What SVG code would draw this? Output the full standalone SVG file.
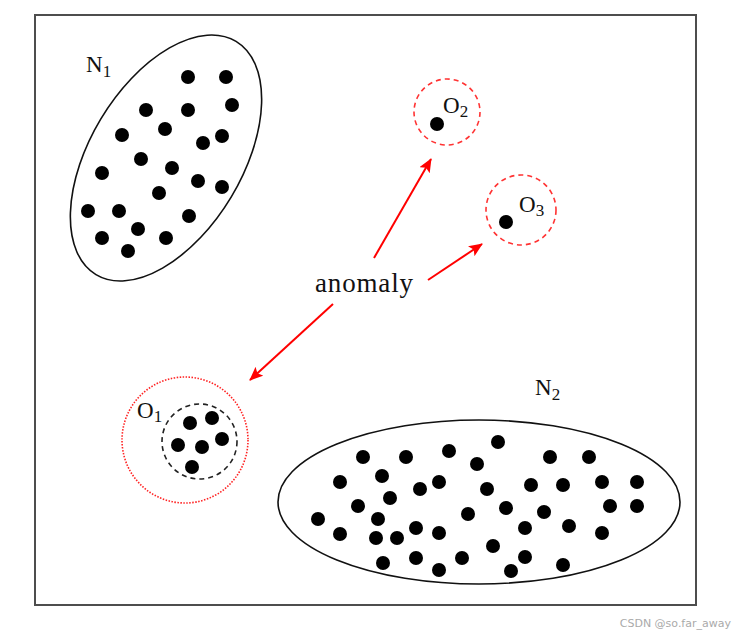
<svg xmlns="http://www.w3.org/2000/svg" width="738" height="636" viewBox="0 0 738 636">
<defs>
<style>
.d{fill:#000}
.lbl{font-family:"Liberation Serif",serif;font-size:23px;fill:#111}
.sub{font-size:17px}
.arr{stroke:#ff0000;stroke-width:2;fill:none;marker-end:url(#ah)}
</style>
<marker id="ah" viewBox="0 0 14 12" refX="13" refY="6" markerWidth="14" markerHeight="12" markerUnits="userSpaceOnUse" orient="auto">
<path d="M0,0 L14,6 L0,12 L3,6 Z" fill="#ff0000"/>
</marker>
</defs>
<rect width="738" height="636" fill="#fff"/>
<rect x="35" y="15" width="661" height="590" fill="none" stroke="#4d4d4d" stroke-width="2"/>

<g id="N1">
<ellipse cx="166" cy="158" rx="136" ry="76" transform="rotate(-59 166 158)" fill="none" stroke="#111" stroke-width="1.6"/>
<text class="lbl" x="86" y="72">N<tspan class="sub" dy="5">1</tspan></text>
<g class="d">
<circle cx="188" cy="77" r="7"/><circle cx="226" cy="77" r="7"/>
<circle cx="146" cy="110" r="7"/><circle cx="188" cy="110" r="7"/><circle cx="232" cy="105" r="7"/>
<circle cx="122" cy="135" r="7"/><circle cx="165" cy="129" r="7"/><circle cx="203" cy="143" r="7"/><circle cx="222" cy="136" r="7"/>
<circle cx="141" cy="159" r="7"/><circle cx="172" cy="168" r="7"/><circle cx="102" cy="173" r="7"/><circle cx="198" cy="181" r="7"/><circle cx="222" cy="187" r="7"/>
<circle cx="159" cy="193" r="7"/><circle cx="88" cy="211" r="7"/><circle cx="119" cy="211" r="7"/><circle cx="189" cy="216" r="7"/>
<circle cx="138" cy="229" r="7"/><circle cx="102" cy="238" r="7"/><circle cx="166" cy="238" r="7"/><circle cx="128" cy="251" r="7"/>
</g>
</g>

<g id="O2">
<circle cx="447" cy="112" r="33" fill="none" stroke="#ff3333" stroke-width="1.6" stroke-dasharray="5,4"/>
<circle class="d" cx="437" cy="124" r="7"/>
<text class="lbl" x="443" y="113">O<tspan class="sub" dy="4">2</tspan></text>
</g>

<g id="O3">
<circle cx="521" cy="210" r="35" fill="none" stroke="#ff3333" stroke-width="1.6" stroke-dasharray="5,4"/>
<circle class="d" cx="506" cy="222" r="7"/>
<text class="lbl" x="519" y="212">O<tspan class="sub" dy="4">3</tspan></text>
</g>

<g id="O1">
<circle cx="185" cy="440" r="63" fill="none" stroke="#ff2222" stroke-width="1.6" stroke-dasharray="1.5,1.5"/>
<circle cx="199.5" cy="441.5" r="37.5" fill="none" stroke="#222" stroke-width="1.6" stroke-dasharray="5,4"/>
<text class="lbl" x="137" y="418">O<tspan class="sub" dy="4">1</tspan></text>
<g class="d">
<circle cx="190" cy="423" r="7"/><circle cx="212" cy="418" r="7"/>
<circle cx="178" cy="445" r="7"/><circle cx="202" cy="447" r="7"/><circle cx="222" cy="439" r="7"/>
<circle cx="192" cy="467" r="7"/>
</g>
</g>

<g id="N2">
<ellipse cx="479" cy="502" rx="201" ry="82" fill="none" stroke="#111" stroke-width="1.6"/>
<text class="lbl" x="535" y="395">N<tspan class="sub" dy="5">2</tspan></text>
<g class="d">
<circle cx="498" cy="442" r="7"/><circle cx="363" cy="457" r="7"/><circle cx="406" cy="457" r="7"/><circle cx="449" cy="451" r="7"/>
<circle cx="477" cy="464" r="7"/><circle cx="550" cy="457" r="7"/><circle cx="589" cy="457" r="7"/>
<circle cx="340" cy="482" r="7"/><circle cx="382" cy="476" r="7"/><circle cx="420" cy="489" r="7"/><circle cx="439" cy="482" r="7"/>
<circle cx="487" cy="489" r="7"/><circle cx="531" cy="485" r="7"/><circle cx="563" cy="485" r="7"/><circle cx="602" cy="482" r="7"/><circle cx="637" cy="482" r="7"/>
<circle cx="358" cy="506" r="7"/><circle cx="390" cy="498" r="7"/><circle cx="468" cy="514" r="7"/><circle cx="506" cy="508" r="7"/>
<circle cx="544" cy="512" r="7"/><circle cx="610" cy="506" r="7"/><circle cx="637" cy="506" r="7"/>
<circle cx="318" cy="519" r="7"/><circle cx="378" cy="519" r="7"/><circle cx="340" cy="534" r="7"/><circle cx="376" cy="538" r="7"/>
<circle cx="397" cy="538" r="7"/><circle cx="416" cy="528" r="7"/><circle cx="439" cy="533" r="7"/><circle cx="525" cy="528" r="7"/>
<circle cx="569" cy="526" r="7"/><circle cx="602" cy="533" r="7"/><circle cx="493" cy="546" r="7"/>
<circle cx="383" cy="563" r="7"/><circle cx="416" cy="558" r="7"/><circle cx="439" cy="570" r="7"/><circle cx="462" cy="558" r="7"/>
<circle cx="525" cy="557" r="7"/><circle cx="511" cy="571" r="7"/><circle cx="563" cy="565" r="7"/>
</g>
</g>

<g id="anomaly">
<text x="315" y="292" font-family="'Liberation Serif',serif" font-size="27" fill="#111" textLength="98">anomaly</text>
</g>

<g id="connectors">
<line class="arr" x1="374" y1="258" x2="431" y2="159"/>
<line class="arr" x1="428" y1="280" x2="482" y2="244"/>
<line class="arr" x1="333" y1="304" x2="250" y2="380"/>
</g>

<text x="731" y="627" text-anchor="end" font-family="'DejaVu Sans',sans-serif" font-size="11" fill="#aaa">CSDN @so.far_away</text>
</svg>
